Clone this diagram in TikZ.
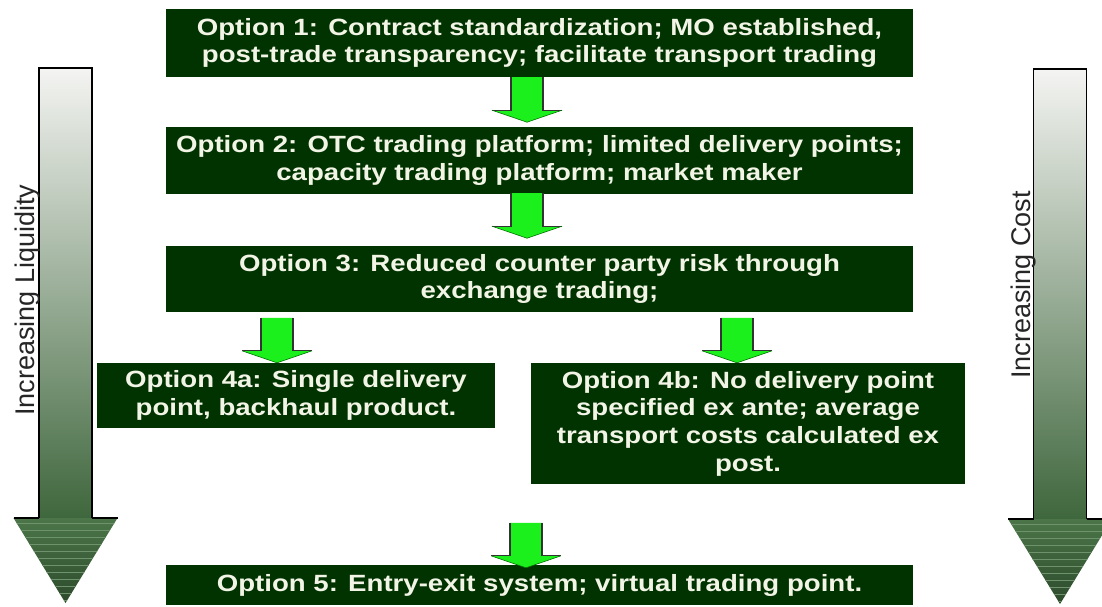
\documentclass[tikz,border=0pt]{standalone}
\usepackage{fontspec}
\setmainfont{Liberation Sans}
\newfontfamily\boxfont{Liberation Sans}[FakeStretch=1.175]
\usetikzlibrary{calc}
\definecolor{boxgreen}{HTML}{013301}
\definecolor{boxtext}{HTML}{F2F4E6}
\definecolor{arrowgreen}{HTML}{1CF01C}
\definecolor{bigtop}{HTML}{F4F4F2}
\definecolor{bigbot}{HTML}{3F673D}
\definecolor{headtop}{HTML}{4C7649}
\definecolor{headbot}{HTML}{2C4A2B}
\definecolor{stripe}{HTML}{6E926B}
\begin{document}
\begin{tikzpicture}[x=1pt,y=-1pt,
  optbox/.style={rectangle, fill=boxgreen, text=boxtext, inner sep=0pt,
     align=center, font=\boxfont\bfseries\fontsize{23.5}{27.7}\selectfont},
  sidelabel/.style={rotate=90, inner sep=0pt, text=black!85,
     font=\fontsize{27}{31}\selectfont},
  garrow/.pic={
    \fill[arrowgreen] (-16,0) -- (16,0) -- (16,33) -- (35,33) -- (0,45) -- (-35,33) -- (-16,33) -- cycle;
    \draw[black!80, line width=1.2pt] (-35,33) -- (-16,33) -- (-16,0) (16,0) -- (16,33) -- (35,33);
    \draw[green!45!black, line width=0.6pt] (-35,33) -- (0,45) -- (35,33);
  },
  bigarrow/.pic={
    \shade[top color=bigtop, bottom color=bigbot] (-26.5,0) rectangle (26.5,450);
    \draw[black, line width=1.2pt] (-26.5,450) -- (-26.5,0) -- (26.5,0) -- (26.5,450);
    \begin{scope}
      \clip (-52,450) -- (52,450) -- (0,535) -- cycle;
      \shade[top color=headtop, bottom color=headbot] (-52,450) rectangle (52,535);
      \foreach \k in {0,...,11} {
        \draw[stripe, line width=0.7pt] (-52,455+7*\k) -- (52,455+7*\k);
      }
    \end{scope}
    \draw[black, line width=1.2pt] (-52,450) -- (-26.5,450) (26.5,450) -- (52,450);
  }]
\useasboundingbox (0,0) rectangle (1102,606);
\fill[white] (0,0) rectangle (1102,606);
\clip (0,0) rectangle (1102,606);

% big side arrows
\pic at (65.5,68) {bigarrow};
\pic at (1060,69) {bigarrow};
\node[sidelabel] (liq) at (28,300) {Increasing Liquidity};
\node[sidelabel] (cost) at (1024,285) {Increasing Cost};

% option boxes
\node[optbox, minimum width=747pt, minimum height=68pt] (o1) at (539.5,43)
  {Option 1: Contract standardization; MO established,\\post-trade transparency; facilitate transport trading};
\node[optbox, minimum width=747pt, minimum height=67pt] (o2) at (539.5,160.5)
  {Option 2: OTC trading platform; limited delivery points;\\capacity trading platform; market maker};
\node[optbox, minimum width=747pt, minimum height=66pt] (o3) at (539.5,279)
  {Option 3: Reduced counter party risk through\\exchange trading;};
\node[optbox, minimum width=398pt, minimum height=65pt] (o4a) at (296,395.5)
  {Option 4a: Single delivery\\point, backhaul product.};
\node[optbox, minimum width=434pt, minimum height=121pt] (o4b) at (748,423.5)
  {Option 4b: No delivery point\\specified ex ante; average\\transport costs calculated ex\\post.};
\node[optbox, minimum width=747pt, minimum height=40pt] (o5) at (539.5,585)
  {Option 5: Entry-exit system; virtual trading point.};

% green arrows between boxes
\coordinate (c1) at ($(o1.south)+(-12.5,0)$);
\coordinate (c2) at ($(o2.south)+(-12.5,-1)$);
\coordinate (c4a) at ($(o4a.north)+(-19,-45)$);
\coordinate (c4b) at ($(o4b.north)+(-11,-45)$);
\coordinate (c5) at ($(o5.north)+(-13.5,-42)$);
\pic at (c1) {garrow};
\pic at (c2) {garrow};
\pic at (c4a) {garrow};
\pic at (c4b) {garrow};
\pic at (c5) {garrow};
\end{tikzpicture}
\end{document}
